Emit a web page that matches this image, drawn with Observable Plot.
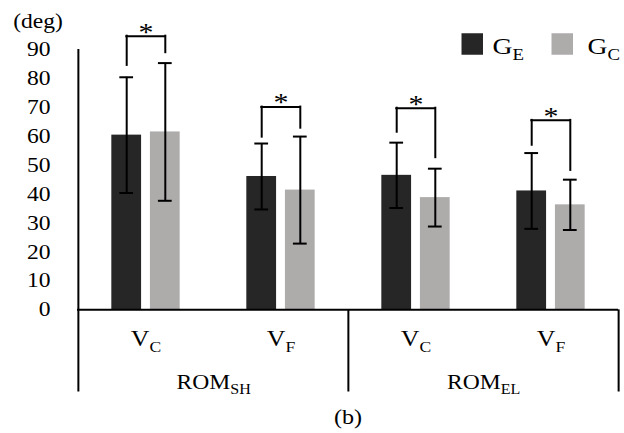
<!DOCTYPE html>
<html><head><meta charset="utf-8">
<script src="https://cdn.jsdelivr.net/npm/d3@7"></script>
<script src="https://cdn.jsdelivr.net/npm/@observablehq/plot@0.6"></script>
<style>body{margin:0;background:#fff} svg text{font-family:'Liberation Serif','Times New Roman',serif !important}</style>
</head><body><div id="chart"></div>
<script>
// ---- data ----
const groups = ["ROM_SH", "ROM_SH", "ROM_EL", "ROM_EL"];
const conditions = ["V_C", "V_F", "V_C", "V_F"];
const seriesNames = ["G_E", "G_C"];
const meansGE = [60.4, 46.1, 46.5, 41.1];
const sdGE = [20.0, 11.4, 11.3, 13.1];
const meansGC = [61.5, 41.4, 38.8, 36.3];
const sdGC = [23.8, 18.5, 10.0, 8.7];
const bracketTop = [94.6, 70.1, 69.7, 65.5];
const bracketLeftEnd = [84.5, 59.7, 61.4, 56.9];
const bracketRightEnd = [88.9, 62.8, 52.6, 48.2];
const yTicks = [0, 10, 20, 30, 40, 50, 60, 70, 80, 90];
const unitLabel = "(deg)";
const caption = "(b)";
const sigMark = "*";
const colors = ["#262626", "#aeabab"];

// ---- layout ----
const W = 624, H = 433, mL = 77, mR = 6, mT = 49, mB = 41.5;
const yFloor = -28.4, yMax = 90;
const bw = (W - mL - mR) / groups.length;
const barW = 30, barGap = 8.6, capW = 14;
const off = barGap / 2 + barW / 2;
const seriesOff = [-off, off];
const font = "'Liberation Serif', 'Times New Roman', serif";
const textStretch = 1.15;

const keys = groups.map((g, i) => g + " " + conditions[i]);
const means = [meansGE, meansGC];
const sds = [sdGE, sdGC];
const rows = seriesNames.map((s, si) => keys.map((k, i) => ({
  key: k, series: s, mean: means[si][i],
  lo: means[si][i] - sds[si][i], hi: means[si][i] + sds[si][i]
})));
const brackets = keys.map((k, i) => ({key: k, top: bracketTop[i], left: bracketLeftEnd[i], right: bracketRightEnd[i]}));
const groupFirst = keys.filter((k, i) => i === 0 || groups[i] !== groups[i - 1]);
const groupNames = groups.filter((g, i) => i === 0 || g !== groups[i - 1]);
const lastKey = [keys[keys.length - 1]];

const marks = [];
seriesNames.forEach((s, si) => {
  const o = seriesOff[si];
  marks.push(Plot.barY(rows[si], {x: "key", y: "mean", fill: colors[si],
    insetLeft: bw / 2 + o - barW / 2, insetRight: bw / 2 - o - barW / 2}));
});
// axes lines
marks.push(Plot.ruleY([0], {stroke: "#000", strokeWidth: 2}));
marks.push(Plot.ruleX([keys[0]], {x: d => d, y1: yFloor, y2: yMax, dx: -bw / 2, stroke: "#000", strokeWidth: 2}));
marks.push(Plot.ruleX(groupFirst.slice(1), {x: d => d, y1: yFloor, y2: 0, dx: -bw / 2, stroke: "#000", strokeWidth: 2}));
marks.push(Plot.ruleX(lastKey, {x: d => d, y1: yFloor, y2: 0, dx: bw / 2, stroke: "#000", strokeWidth: 2}));
// error bars
seriesNames.forEach((s, si) => {
  const o = seriesOff[si];
  marks.push(Plot.ruleX(rows[si], {x: "key", y1: "lo", y2: "hi", dx: o, stroke: "#000", strokeWidth: 2}));
  for (const f of ["lo", "hi"]) {
    marks.push(Plot.tickY(rows[si], {x: "key", y: f, stroke: "#000", strokeWidth: 2,
      insetLeft: bw / 2 + o - capW / 2, insetRight: bw / 2 - o - capW / 2}));
  }
});
// significance brackets
marks.push(Plot.ruleX(brackets, {x: "key", y1: "left", y2: "top", dx: -off, stroke: "#000", strokeWidth: 2, strokeLinecap: "square"}));
marks.push(Plot.ruleX(brackets, {x: "key", y1: "right", y2: "top", dx: off, stroke: "#000", strokeWidth: 2, strokeLinecap: "square"}));
marks.push(Plot.tickY(brackets, {x: "key", y: "top", stroke: "#000", strokeWidth: 2, strokeLinecap: "square",
  insetLeft: bw / 2 - off, insetRight: bw / 2 - off}));
marks.push(Plot.text(brackets, {x: "key", y: "top", text: () => sigMark, dy: -4, fontSize: 26, fontFamily: font, lineAnchor: "middle", fill: "#000"}));
// y axis
marks.push(Plot.axisY({ticks: yTicks, tickSize: 0, tickPadding: 27, fontSize: 20.5, fontFamily: font, fontVariant: "normal", label: null, fill: "#000", tickFormat: d => String(d)}));
marks.push(Plot.text([unitLabel], {frameAnchor: "top-left", dx: 12.7 - mL, dy: 27.5 - mT, textAnchor: "start", lineAnchor: "bottom", fontSize: 20.5, fontFamily: font, fill: "#000"}));
// category labels
marks.push(Plot.text(keys, {x: d => d, text: (d, i) => conditions[i], frameAnchor: "bottom", dy: -46, lineAnchor: "bottom", fontSize: 22.5, fontFamily: font, fill: "#000"}));
marks.push(Plot.text(groupFirst, {x: d => d, text: (d, i) => groupNames[i], frameAnchor: "bottom", dx: bw / 2, dy: -3.5, lineAnchor: "bottom", fontSize: 20.5, fontFamily: font, fill: "#000"}));
marks.push(Plot.text([caption], {frameAnchor: "bottom", dy: 31.5, lineAnchor: "bottom", fontSize: 21, fontFamily: font, fill: "#000"}));
// legend
const legendSquareX = [461, 551], legendTextX = [492, 587], legendSide = 21.5, legendCy = 43.5, legendBase = 53;
seriesNames.forEach((s, si) => {
  marks.push(Plot.dot([s], {frameAnchor: "top-left", dx: legendSquareX[si] + legendSide / 2 - mL, dy: legendCy - mT,
    symbol: "square", r: legendSide / Math.sqrt(Math.PI), fill: colors[si]}));
  marks.push(Plot.text([s], {frameAnchor: "top-left", dx: legendTextX[si] - mL, dy: legendBase - mT,
    textAnchor: "start", lineAnchor: "bottom", fontSize: 24, fontFamily: font, fill: "#000"}));
});

const svg = Plot.plot({
  width: W, height: H, marginLeft: mL, marginRight: mR, marginTop: mT, marginBottom: mB,
  style: {fontFamily: font, background: "#fff", color: "#000"},
  x: {type: "band", domain: keys, padding: 0, axis: null},
  y: {domain: [yFloor, yMax], axis: null},
  marks
});
svg.querySelectorAll("text").forEach(t => {
  if (t.children.length === 0 && t.textContent.includes("_")) {
    const [a, b] = t.textContent.split("_");
    t.textContent = a;
    const ts = document.createElementNS("http://www.w3.org/2000/svg", "tspan");
    ts.setAttribute("font-size", "68%");
    ts.setAttribute("dy", "0.42em");
    ts.textContent = b;
    t.appendChild(ts);
  }
  // the reference lettering is slightly wider than Times: stretch horizontally about the anchor
  const ax = parseFloat(t.getAttribute("x")) || 0;
  const tr = t.getAttribute("transform") || "";
  t.setAttribute("transform", `${tr} translate(${ax},0) scale(${textStretch},1) translate(${-ax},0)`.trim());
});
document.getElementById("chart").appendChild(svg);
</script>
</body></html>
